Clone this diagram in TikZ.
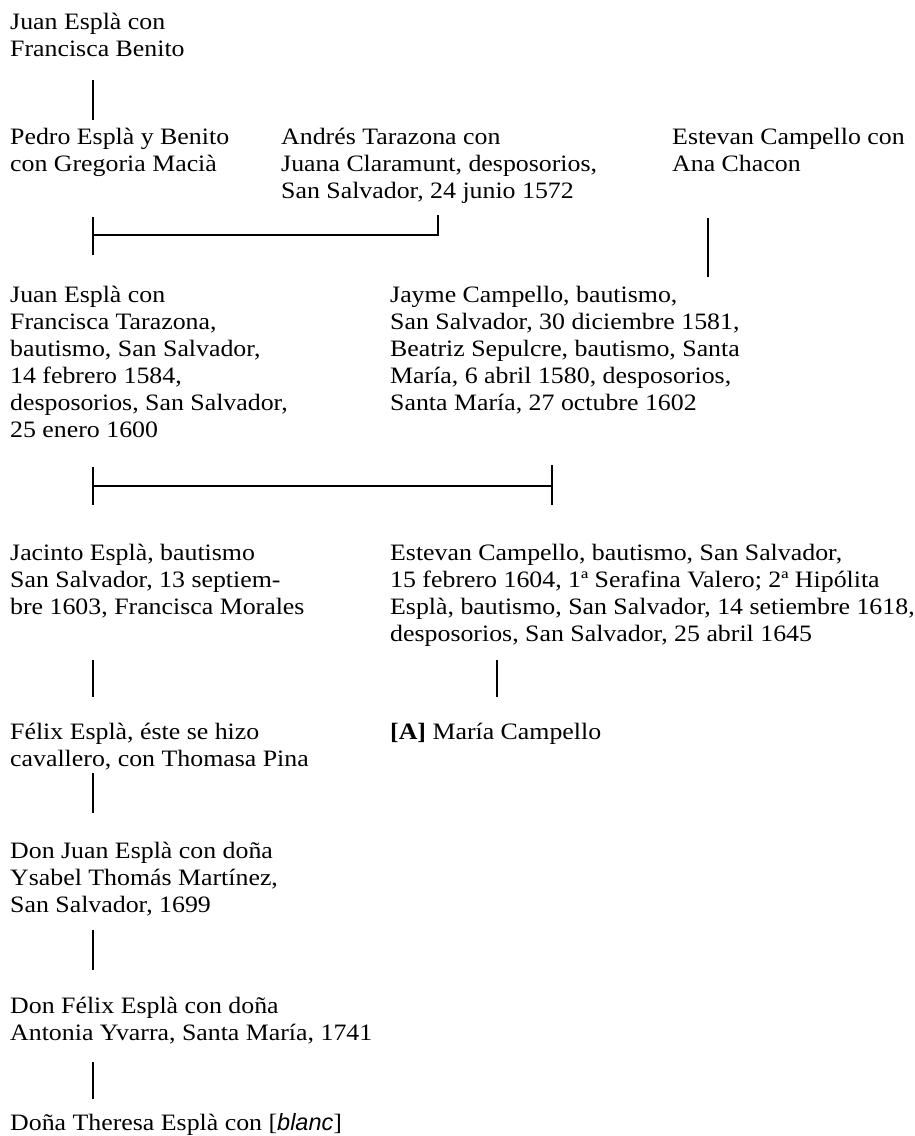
\documentclass[tikz,border=0pt]{standalone}
\usepackage{fontspec}
\setmainfont{Liberation Serif}[FakeStretch=1.1]
\newfontfamily\blancfont{Liberation Sans}
\begin{document}
\begin{tikzpicture}[x=1pt,y=-1pt,
    person/.style={anchor=north west,inner sep=0pt,align=left,font=\fontsize{23.5}{27}\selectfont},
    link/.style={line width=2.6pt}]
\useasboundingbox (0,0) rectangle (914,1136);
\node[person] (juanbenito) at (10,10) {\strut Juan Esplà con\\Francisca Benito};
\node[person] (pedro) at (10,125) {\strut Pedro Esplà y Benito\\con Gregoria Macià};
\node[person] (andres) at (281,125) {\strut Andrés Tarazona con\\Juana Claramunt, desposorios,\\San Salvador, 24 junio 1572};
\node[person] (estevanana) at (672,125) {\strut Estevan Campello con\\Ana Chacon};
\node[person] (juantarazona) at (10,283) {\strut Juan Esplà con\\Francisca Tarazona,\\bautismo, San Salvador,\\14 febrero 1584,\\desposorios, San Salvador,\\25 enero 1600};
\node[person] (jayme) at (390,283) {\strut Jayme Campello, bautismo,\\San Salvador, 30 diciembre 1581,\\Beatriz Sepulcre, bautismo, Santa\\María, 6 abril 1580, desposorios,\\Santa María, 27 octubre 1602};
\node[person] (jacinto) at (10,541) {\strut Jacinto Esplà, bautismo\\San Salvador, 13 septiem-\\bre 1603, Francisca Morales};
\node[person] (estevanhipolita) at (390,541) {\strut Estevan Campello, bautismo, San Salvador,\\15 febrero 1604, 1ª Serafina Valero; 2ª Hipólita\\Esplà, bautismo, San Salvador, 14 setiembre 1618,\\desposorios, San Salvador, 25 abril 1645};
\node[person] (felix) at (10,720) {\strut Félix Esplà, éste se hizo\\cavallero, con Thomasa Pina};
\node[person] (maria) at (390,720) {\strut\textbf{[A]} María Campello};
\node[person] (donjuan) at (10,839) {\strut Don Juan Esplà con doña\\Ysabel Thomás Martínez,\\San Salvador, 1699};
\node[person] (donfelix) at (10,994) {\strut Don Félix Esplà con doña\\Antonia Yvarra, Santa María, 1741};
\node[person] (theresa) at (10,1111) {\strut Doña Theresa Esplà con [{\blancfont\itshape blanc}]};
\coordinate (barA1) at (93,80);   \coordinate (barA2) at (93,120);
\coordinate (tieA1) at (93,217);  \coordinate (tieA2) at (93,255);
\coordinate (tieA) at (93,235);   \coordinate (tieB) at (438,235);
\coordinate (tieB1) at (438,215);
\coordinate (barD1) at (708,218); \coordinate (barD2) at (708,277);
\coordinate (tieC1) at (93,467);  \coordinate (tieC2) at (93,505);
\coordinate (tieC) at (93,486);   \coordinate (tieD) at (552,486);
\coordinate (tieD1) at (552,465); \coordinate (tieD2) at (552,505);
\coordinate (barG1) at (93,660);  \coordinate (barG2) at (93,697);
\coordinate (barH1) at (497,660); \coordinate (barH2) at (497,697);
\coordinate (barI1) at (93,773);  \coordinate (barI2) at (93,813);
\coordinate (barK1) at (93,930);  \coordinate (barK2) at (93,970);
\coordinate (barL1) at (93,1062); \coordinate (barL2) at (93,1099);
\draw[link] (barA1) -- (barA2);
\draw[link] (tieA1) -- (tieA2);
\draw[link] (tieA) -- (tieB) -- (tieB1);
\draw[link] (barD1) -- (barD2);
\draw[link] (tieC1) -- (tieC2);
\draw[link] (tieD1) -- (tieD2);
\draw[link] (tieC) -- (tieD);
\draw[link] (barG1) -- (barG2);
\draw[link] (barH1) -- (barH2);
\draw[link] (barI1) -- (barI2);
\draw[link] (barK1) -- (barK2);
\draw[link] (barL1) -- (barL2);
\end{tikzpicture}
\end{document}
